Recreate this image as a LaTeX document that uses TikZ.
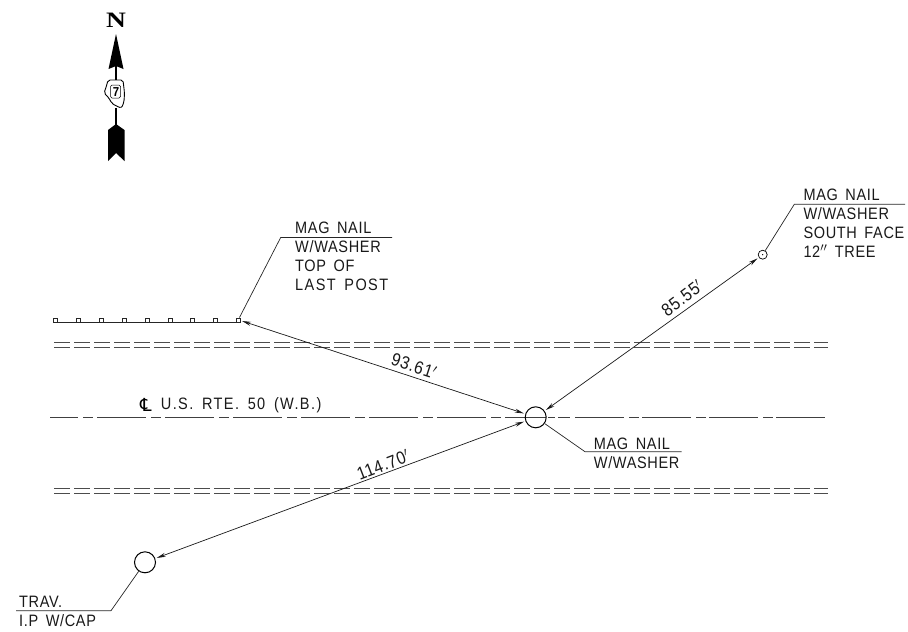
\documentclass[tikz,border=0pt]{standalone}
\usepackage{fontspec}
\setmainfont[LetterSpace=4,WordSpace=1.6,FakeStretch=0.88]{Liberation Sans}
\newfontfamily\widefont[LetterSpace=8.5,WordSpace=1.6,FakeStretch=0.88]{Liberation Sans}
\newfontfamily\serifbold[FakeStretch=1.25]{Liberation Serif}
\newfontfamily\dejavu{DejaVu Sans}
\usetikzlibrary{arrows.meta}
\tikzset{
  cadline/.style={draw=black!85,line width=0.7pt},
  roadline/.style={draw=black!70,line width=0.8pt,dash pattern=on 16pt off 4pt},
  centerline/.style={draw=black!75,line width=0.8pt,dash pattern=on 49pt off 5pt on 10pt off 3pt},
  dimline/.style={draw=black!90,line width=0.7pt,{Stealth[length=9pt,width=4pt]}-{Stealth[length=9pt,width=4pt]},shorten <=1.5pt,shorten >=1.5pt},
  label/.style={anchor=west,inner sep=0pt,text height=11.8pt,text depth=0pt,font=\fontsize{16.5}{16}\selectfont,text=black!90},
  dimtext/.style={inner sep=0pt,font=\fontsize{18}{18}\selectfont,text=black!90},
  bigcircle/.style={circle,draw=black,line width=1pt,minimum size=21pt,inner sep=0pt},
  postbox/.style={rectangle,draw=black!85,line width=0.6pt,minimum size=4pt,inner sep=0pt},
}
\begin{document}
\begin{tikzpicture}[x=1pt,y=-1pt]
\useasboundingbox (0,0) rectangle (908,632);

% north arrow
\node[inner sep=0pt,font=\serifbold\bfseries\fontsize{22}{22}\selectfont] (north) at (116,20) {N};
\fill[black] (116,34) -- (123.5,69) -- (116,66) -- (108.5,69) -- cycle;
\draw[black,line width=1.2pt] (116,66) -- (116,80);
\draw[black,line width=0.9pt,rounded corners=2pt,fill=white]
  (108,80) -- (123,80) -- (124.5,93) -- (124,102) -- (121.5,108) -- (116,106) -- (111.5,103) -- (109,98) -- (104,93) -- (106.5,86) -- cycle;
\draw[black,line width=0.5pt,rounded corners=1.5pt] (110.5,85) rectangle (120.5,98);
\node[inner sep=0pt,font=\bfseries\fontsize{13}{13}\selectfont] (seven) at (116,92) {7};
\draw[black,line width=1.2pt] (116,108) -- (116,126);
\fill[black] (116,124) -- (124.5,130) -- (124.5,161) -- (116,153) -- (108,161) -- (108,130) -- cycle;

% fence
\foreach \i/\px in {1/55.7,2/78.7,3/101.3,4/124.3,5/147,6/170,7/192.7,8/215.7,9/238.3}
  \node[postbox] (post\i) at (\px,319.8) {};
\draw[cadline] (post1.south west) -- (post9.south east);

% road edges
\coordinate (ra) at (54,342.3); \coordinate (rb) at (828,342.3);
\coordinate (rc) at (54,347);   \coordinate (rd) at (828,347);
\coordinate (re) at (54,488);   \coordinate (rf) at (828,488);
\coordinate (rg) at (54,493);   \coordinate (rh) at (828,493);
\draw[roadline] (ra) -- (rb);
\draw[roadline] (rc) -- (rd);
\draw[roadline] (re) -- (rf);
\draw[roadline] (rg) -- (rh);

% centre line
\coordinate (cla) at (50,417.3); \coordinate (clb) at (546,417.3);
\draw[centerline,dash pattern=on 49pt off 5pt on 10pt off 4pt,dash phase=21pt] (cla) -- (clb);
\draw[draw=black!75,line width=0.8pt,dash pattern=on 7pt off 3pt on 12pt off 5pt]
  (548,417.3) -- (575,417.3);
\draw[centerline] (575,417) -- (827,417);

% stations
\node[bigcircle] (nail) at (535.7,417.3) {};
\node[bigcircle] (trav) at (145,562.3) {};
\node[circle,draw=black,line width=0.7pt,minimum size=9pt,inner sep=0pt] (tree) at (762.7,254.7) {};
\fill[black] (tree.center) circle (0.7pt);

% dimensions
\draw[dimline] (post9) -- (nail);
\draw[dimline] (tree) -- (nail);
\draw[dimline] (trav) -- (nail);
\node[dimtext,rotate=-18] (d1) at (414,366) {93.61$'$};
\node[dimtext,rotate=37] (d2) at (682,298) {85.55$'$};
\node[dimtext,rotate=21] (d3) at (383,465) {114.70$'$};

% leaders
\coordinate (la) at (280.7,237.5); \coordinate (lb) at (392,237.5);
\draw[cadline] (post9) -- (la) -- (lb);
\coordinate (ta) at (794.3,204.3); \coordinate (tb) at (905,204.3);
\draw[cadline] (tree) -- (ta) -- (tb);
\coordinate (na) at (585,451.7); \coordinate (nb) at (681.7,451.7);
\draw[cadline] (nail) -- (na) -- (nb);
\coordinate (pa) at (111,610.7); \coordinate (pb) at (16,610.7);
\draw[cadline] (trav) -- (pa) -- (pb);

% labels
\node[label] (p1) at (295,228) {MAG NAIL};
\node[label] (p2) at (295,247) {W/WASHER};
\node[label] (p3) at (295,266) {TOP OF};
\node[label] (p4) at (295,285) {\widefont LAST POST};
\node[label] (t1) at (803.3,195) {MAG NAIL};
\node[label] (t2) at (803.3,214) {W/WASHER};
\node[label] (t3) at (803.3,233) {SOUTH FACE};
\node[label] (t4) at (803.3,252) {12$''$ TREE};
\node[label] (n1) at (593.7,444) {MAG NAIL};
\node[label] (n2) at (593.7,462.7) {W/WASHER};
\node[label] (v1) at (19,601.7) {TRAV.};
\node[label] (v2) at (19,621) {I.P W/CAP};
\node[inner sep=0pt,font=\dejavu\fontsize{18}{18}\selectfont] (clsym) at (146,405) {℄};
\node[label] (cl) at (160.7,404) {\widefont U.S. RTE. 50 (W.B.)};
\end{tikzpicture}
\end{document}
